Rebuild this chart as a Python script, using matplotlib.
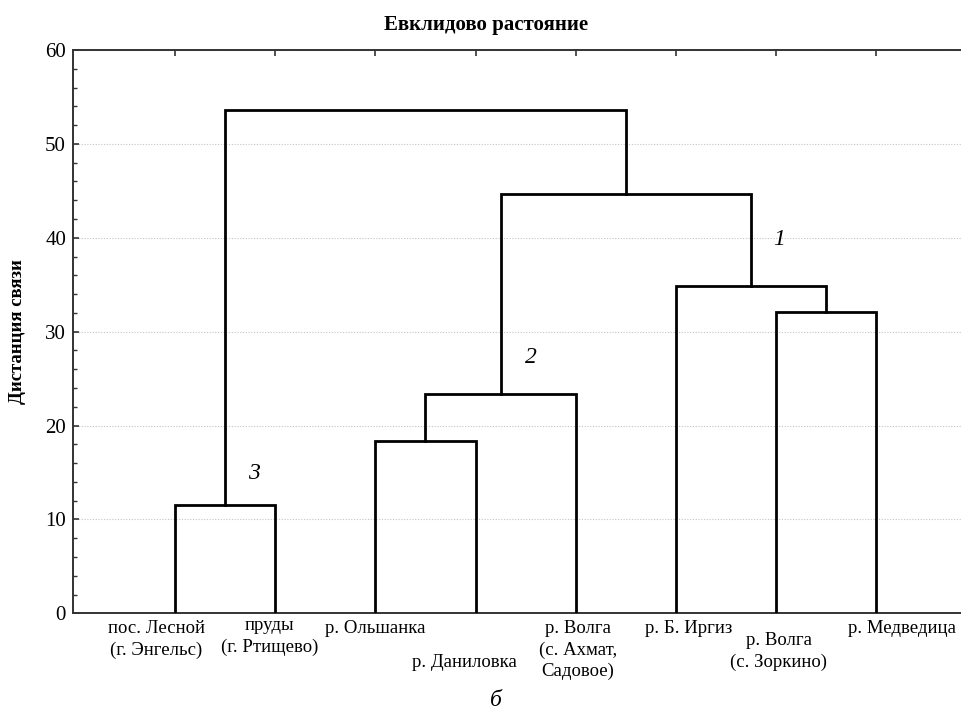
import matplotlib.pyplot as plt
from matplotlib.ticker import MultipleLocator

plt.rcParams["font.family"] = ["Liberation Serif", "DejaVu Serif"]

# leaves in drawing order
leaf_labels = [
    "пос. Лесной\n(г. Энгельс)",
    "пруды\n(г. Ртищево)",
    "р. Ольшанка",
    "р. Даниловка",
    "р. Волга\n(с. Ахмат,\nСадовое)",
    "р. Б. Иргиз",
    "р. Волга\n(с. Зоркино)",
    "р. Медведица",
]

# merges: node ids 0..7 are leaves, new nodes get 8, 9, ...
merge_left = [0, 2, 9, 6, 5, 10, 8]
merge_right = [1, 3, 4, 7, 11, 12, 13]
merge_height = [11.5, 18.3, 23.4, 32.1, 34.9, 44.7, 53.6]

cluster_names = ["1", "2", "3"]

# label layout (offset in leaf units, top in px below axis)
label_dx = [-0.19, -0.06, 0.0, -0.11, 0.02, 0.13, 0.03, 0.26]
label_top = [7, 4, 7, 41, 7, 7, 19, 7]

fig = plt.figure(figsize=(9.61, 7.11), dpi=100)
ax_h = 563.3 / 711
ax = fig.add_axes([73 / 961, (711 - 613.3) / 711, 9.02 * 100.14 / 961, ax_h])

n = len(leaf_labels)
xpos = {i: i + 1 for i in range(n)}
ypos = {i: 0.0 for i in range(n)}
for k, (a, b, h) in enumerate(zip(merge_left, merge_right, merge_height)):
    node = n + k
    ax.plot([xpos[a], xpos[a], xpos[b], xpos[b]], [ypos[a], h, h, ypos[b]],
            color="black", lw=2.0, solid_joinstyle="miter", zorder=3)
    xpos[node] = (xpos[a] + xpos[b]) / 2
    ypos[node] = h

ax.set_xlim(-0.02, 9)
ax.set_ylim(0, 60)

ax.yaxis.set_major_locator(MultipleLocator(10))
ax.yaxis.set_minor_locator(MultipleLocator(2))
ax.set_xticks(range(1, n + 1))
ax.tick_params(axis="x", which="both", bottom=False, top=True, labelbottom=False,
               direction="in", length=4, width=1.2, color="#333333")
ax.tick_params(axis="y", which="major", direction="in", length=4, width=1.2,
               labelsize=15, pad=5, color="#333333")
ax.tick_params(axis="y", which="minor", direction="in", length=3, width=1.0,
               color="#333333")
ax.grid(axis="y", which="major", linestyle=(0, (1, 1.5)), color="#c4c4c4", lw=0.8)
for s in ax.spines.values():
    s.set_color("#333333")
    s.set_linewidth(1.4)

ax.set_ylabel("Дистанция связи", fontsize=13.5, fontweight="bold", labelpad=14)
fig.text(486 / 961, 1 - 25 / 711, "Евклидово растояние", fontsize=15,
         fontweight="bold", ha="center", va="center")

tr = ax.get_xaxis_transform()
for i, (lab, dx, top) in enumerate(zip(leaf_labels, label_dx, label_top)):
    ax.text(i + 1 + dx, -top / 563.3, lab, transform=tr, ha="center", va="top",
            fontsize=13.5, linespacing=1.3, multialignment="center")

# cluster numbers
num_x = [7.03, 4.55, 1.79]
num_y = [39.8, 27.2, 14.9]
for name, x, y in zip(cluster_names, num_x, num_y):
    ax.text(x, y, name, fontsize=17, style="italic", ha="center", va="center")

fig.text(496 / 961, 1 - 700 / 711, "б", fontsize=17, style="italic",
         ha="center", va="center")

fig.savefig("out.png", dpi=100)
